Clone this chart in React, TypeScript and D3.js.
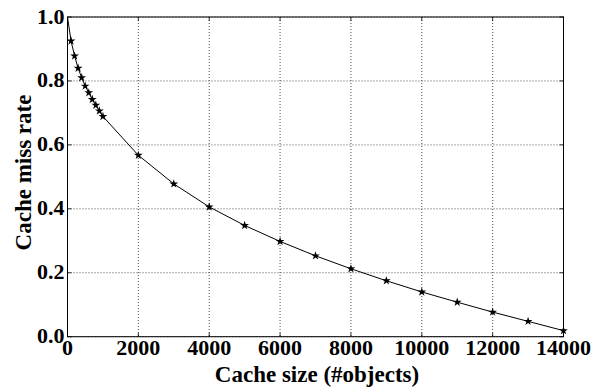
import React from "react";
import * as d3 from "d3";

const cacheSizes = [0, 100, 200, 300, 400, 500, 600, 700, 800, 900, 1000, 2000, 3000, 4000, 5000, 6000, 7000, 8000, 9000, 10000, 11000, 12000, 13000, 14000];
const missRates = [1.0, 0.925, 0.878, 0.84, 0.81, 0.784, 0.763, 0.742, 0.724, 0.706, 0.689, 0.5675, 0.478, 0.406, 0.348, 0.298, 0.253, 0.2125, 0.175, 0.14, 0.108, 0.077, 0.048, 0.019];
const xTicks = [0, 2000, 4000, 6000, 8000, 10000, 12000, 14000];
const yTicks = [0.0, 0.2, 0.4, 0.6, 0.8, 1.0];
const xTitle = "Cache size (#objects)";
const yTitle = "Cache miss rate";

const W = 593, H = 388;
const L = 67.5, R = 563.5, T = 17, B = 336.7;
const FONT = "Liberation Serif, serif";

export default function App() {
  const x = d3.scaleLinear().domain([0, 14000]).range([L, R]);
  const y = d3.scaleLinear().domain([0, 1]).range([B, T]);
  const pts = cacheSizes.map((c, i) => [c, missRates[i]] as [number, number]);
  const line = d3.line<[number, number]>().x(d => x(d[0])).y(d => y(d[1]));
  const star = d3.symbol().type(d3.symbolStar).size(24)();
  const txt = { fontFamily: FONT, fontWeight: 700 } as React.CSSProperties;
  return (
    <svg width={W} height={H} style={{ position: "absolute", left: 0, top: 0, background: "#fff" }}>
      <rect x={0} y={0} width={W} height={H} fill="#fff" />
      {xTicks.map(t => (
        <line key={"gx" + t} x1={x(t)} x2={x(t)} y1={T} y2={B} stroke="#000" strokeWidth={0.7} strokeDasharray="1,2" />
      ))}
      {yTicks.map(t => (
        <line key={"gy" + t} x1={L} x2={R} y1={y(t)} y2={y(t)} stroke="#000" strokeWidth={0.7} strokeDasharray="1,2" />
      ))}
      {xTicks.map(t => (
        <g key={"tx" + t}>
          <line x1={x(t)} x2={x(t)} y1={B} y2={B - 4} stroke="#000" strokeWidth={0.8} />
          <line x1={x(t)} x2={x(t)} y1={T} y2={T + 4} stroke="#000" strokeWidth={0.8} />
          <text x={x(t)} y={355} textAnchor="middle" style={{ ...txt, fontSize: 22 }}>{t}</text>
        </g>
      ))}
      {yTicks.map(t => (
        <g key={"ty" + t}>
          <line x1={L} x2={L + 4} y1={y(t)} y2={y(t)} stroke="#000" strokeWidth={0.8} />
          <line x1={R} x2={R - 4} y1={y(t)} y2={y(t)} stroke="#000" strokeWidth={0.8} />
          <text x={L - 3} y={y(t) + 6.5} textAnchor="end" style={{ ...txt, fontSize: 22 }}>{t.toFixed(1)}</text>
        </g>
      ))}
      <path d={line(pts) || ""} fill="none" stroke="#000" strokeWidth={1} />
      {pts.filter(p => p[0] > 0).map(p => (
        <path key={"m" + p[0]} d={star || ""} transform={`translate(${x(p[0])},${y(p[1])})`} fill="#000" />
      ))}
      <rect x={L} y={T} width={R - L} height={B - T} fill="none" stroke="#000" strokeWidth={1} />
      <text x={317} y={381.5} textAnchor="middle" style={{ ...txt, fontSize: 23 }}>{xTitle}</text>
      <text transform={`translate(31,${172.5}) rotate(-90)`} textAnchor="middle" style={{ ...txt, fontSize: 23 }}>{yTitle}</text>
    </svg>
  );
}
